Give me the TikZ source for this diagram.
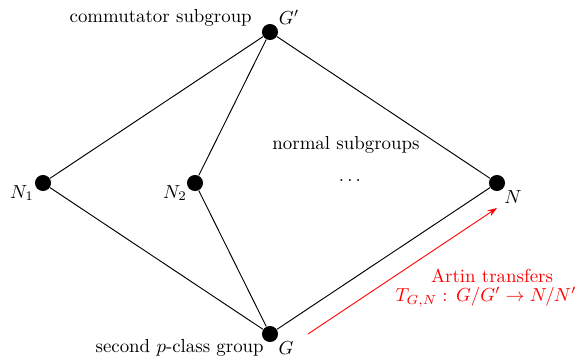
\documentclass[tikz,border=0pt]{standalone}
\usetikzlibrary{arrows.meta}
\begin{document}
\begin{tikzpicture}[x=0.53pt,y=-0.53pt,
  vtx/.style={circle,fill=black,inner sep=0pt,minimum size=8.5pt},
  edge/.style={line width=0.5pt},
  lbl/.style={inner sep=1pt},
  red arrow/.style={red,line width=0.45pt,-{Stealth[length=5pt,width=3.5pt]}},
  redtxt/.style={red,inner sep=0pt}]
\useasboundingbox (0,0) rectangle (587,356);
\node[vtx] (Gp) at (270,32) {};
\node[vtx] (N1) at (43,183) {};
\node[vtx] (N2) at (195,183) {};
\node[vtx] (N) at (497,183) {};
\node[vtx] (G) at (270,334) {};
\draw[edge] (Gp) -- (N1);
\draw[edge] (Gp) -- (N2);
\draw[edge] (Gp) -- (N);
\draw[edge] (G) -- (N1);
\draw[edge] (G) -- (N2);
\draw[edge] (G) -- (N);
\node[lbl] (lGp) at (289,17) {$G'$};
\node[lbl,anchor=east] (tGp) at (254,18) {commutator subgroup};
\node[lbl] (lN1) at (22,193) {$N_1$};
\node[lbl] (lN2) at (175,193) {$N_2$};
\node[lbl] (lN) at (513,197) {$N$};
\node[lbl] (lG) at (286,348) {$G$};
\node[lbl,anchor=east] (tG) at (266,348) {second $p$-class group};
\node[lbl] (ns) at (346,145) {normal subgroups};
\node[lbl] (dots) at (350,181) {$\ldots$};
\coordinate (a0) at (308,334);
\coordinate (a1) at (497,208);
\draw[red arrow] (a0) -- (a1);
\node[redtxt,text depth=0pt] (at1) at (492,275.5) {Artin transfers};
\node[redtxt,text height=6.5pt] (at2) at (486,298) {$T_{G,N}:\,G/G'\rightarrow N/N'$};
\end{tikzpicture}
\end{document}
